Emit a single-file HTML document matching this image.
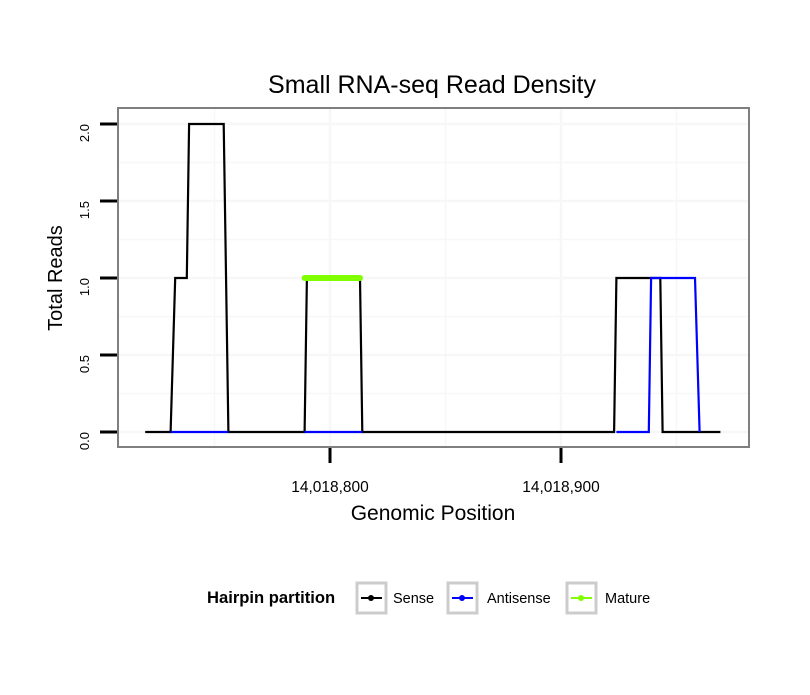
<!DOCTYPE html>
<html><head><meta charset="utf-8"><style>
body{margin:0;background:#fff;}
svg text{font-family:"Liberation Sans",sans-serif;}
</style></head><body>
<svg id="chart" width="810" height="690" xmlns="http://www.w3.org/2000/svg">
<rect width="810" height="690" fill="#fff"/>
<g id="grid"></g>
<g id="series"></g>
<rect x="118" y="108" width="631" height="339" fill="none" stroke="#7f7f7f" stroke-width="2"/>
<g id="axes"></g>
<text x="432" y="93" font-size="25" text-anchor="middle">Small RNA-seq Read Density</text>
<text x="433" y="520" font-size="21" text-anchor="middle">Genomic Position</text>
<text transform="translate(62,278) rotate(-90)" font-size="20" text-anchor="middle">Total Reads</text>
<g>
<text x="207" y="603" font-size="16.6" font-weight="bold">Hairpin partition</text>
<g>
<rect x="357" y="583" width="29" height="30" fill="#fff" stroke="#cccccc" stroke-width="3"/>
<line x1="361" y1="598" x2="382" y2="598" stroke="#000" stroke-width="2"/><circle cx="371" cy="598" r="3" fill="#000"/>
<text x="393" y="603" font-size="14.5">Sense</text></g>
<g>
<rect x="448" y="583" width="29" height="30" fill="#fff" stroke="#cccccc" stroke-width="3"/>
<line x1="452" y1="598" x2="473" y2="598" stroke="#0000ff" stroke-width="2"/><circle cx="462" cy="598" r="3" fill="#0000ff"/>
<text x="487" y="603" font-size="14.5">Antisense</text></g>
<g>
<rect x="567" y="583" width="29" height="30" fill="#fff" stroke="#cccccc" stroke-width="3"/>
<line x1="571" y1="598" x2="592" y2="598" stroke="#7fff00" stroke-width="2"/><circle cx="581" cy="598" r="3" fill="#7fff00"/>
<text x="605" y="603" font-size="14.5">Mature</text></g>
</g>
</svg>
<script>
const senseBase = 14018700;
const sensePos = [20,31,33,38,39,54,56,89,90,113,114,223,224,243,244,269];
const senseVals = [0,0,1,1,2,2,0,0,1,1,0,0,1,1,0,0];
const antisensePos = [31,56,null,89,114,null,224,238,239,258,260];
const antisenseVals = [0,0,null,0,0,null,0,0,1,1,0];
const maturePos = [89,113];
const matureVals = [1,1];
const xTicks = [14018800,14018900];
const xTickLabels = ["14,018,800","14,018,900"];
const yTicks = [0,0.5,1,1.5,2];
const yTickLabels = ["0.0","0.5","1.0","1.5","2.0"];

const NS="http://www.w3.org/2000/svg";
function X(p){return 330+(p-14018800)*2.31;}
function Y(v){return 432-v*154;}
function mk(tag,attrs,parent){const e=document.createElementNS(NS,tag);for(const k in attrs)e.setAttribute(k,attrs[k]);parent.appendChild(e);return e;}
const grid=document.getElementById('grid'),series=document.getElementById('series'),axes=document.getElementById('axes');
for(let v=0;v<=2.01;v+=0.25){
 const g=mk('line',{x1:119,x2:748,y1:Y(v),y2:Y(v),stroke:'#f7f7f7','stroke-width':(v*2)%1===0?2.5:1.5},grid);
 
 
}
for(let p=14018750;p<=14018950;p+=50){
 const g=mk('line',{x1:X(p),x2:X(p),y1:109,y2:446,stroke:'#f7f7f7','stroke-width':p%100===0?2.5:1.5},grid);
 
 
}
function path(pos,vals){let d='',pen=false;for(let i=0;i<pos.length;i++){if(pos[i]===null){pen=false;continue;}d+=(pen?'L':'M')+X(senseBase+pos[i]).toFixed(1)+','+Y(vals[i]).toFixed(1);pen=true;}return d;}
const s=mk('path',{d:path(sensePos,senseVals),fill:'none',stroke:'#000','stroke-width':2.2},series);


const a=mk('path',{d:path(antisensePos,antisenseVals),fill:'none',stroke:'#0000ff','stroke-width':2.2},series);


const m=mk('path',{d:path(maturePos,matureVals),fill:'none',stroke:'#7fff00','stroke-width':6,'stroke-linecap':'round'},series);


yTicks.forEach((v,i)=>{
 const t=mk('line',{x1:100,x2:117,y1:Y(v),y2:Y(v),stroke:'#000','stroke-width':3},axes);
 
 
 const l=mk('text',{transform:`translate(${89},${Y(v)}) rotate(-90)`,'font-size':13,'text-anchor':'end'},axes);
 l.textContent=yTickLabels[i];
 
 
});
xTicks.forEach((p,i)=>{
 const t=mk('line',{x1:X(p),x2:X(p),y1:448,y2:463,stroke:'#000','stroke-width':3},axes);
 
 
 const l=mk('text',{x:X(p),y:492,'font-size':15.5,'text-anchor':'middle'},axes);
 l.textContent=xTickLabels[i];
 
 
});
</script>
</body></html>
